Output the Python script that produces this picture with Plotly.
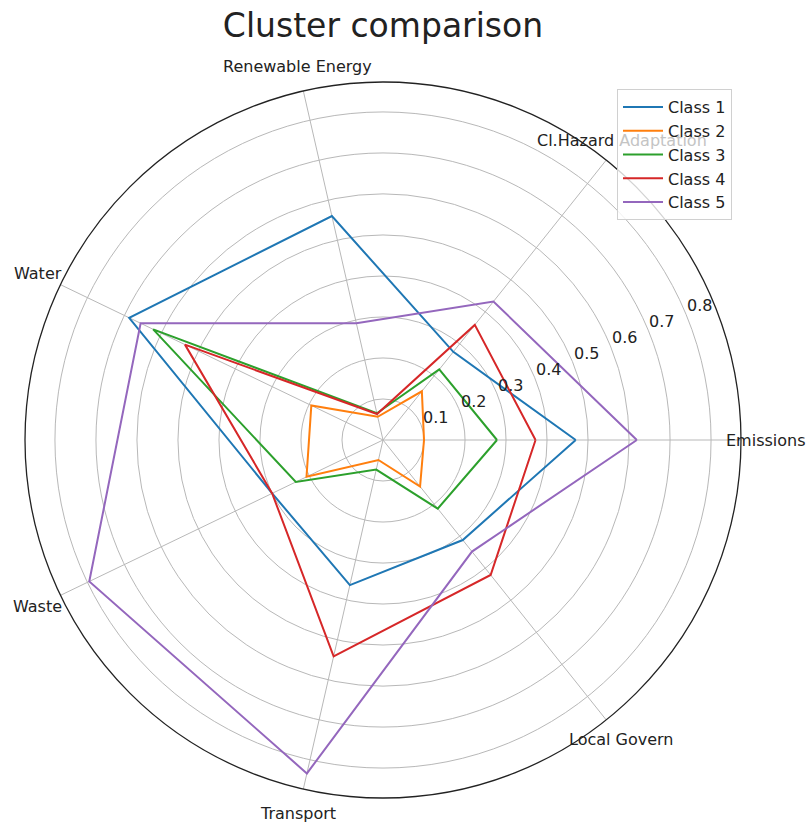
import numpy as np
import plotly.graph_objects as go

# --- data -------------------------------------------------------------------
categories = ["Emissions", "Cl.Hazard Adaptation", "Renewable Energy", "Water",
              "Waste", "Transport", "Local Govern"]
class_names = ["Class 1", "Class 2", "Class 3", "Class 4", "Class 5"]
class_1 = [0.47, 0.275, 0.56, 0.687, 0.30, 0.363, 0.312]
class_2 = [0.10, 0.152, 0.058, 0.194, 0.207, 0.05, 0.145]
class_3 = [0.278, 0.22, 0.067, 0.622, 0.236, 0.074, 0.214]
class_4 = [0.372, 0.359, 0.065, 0.536, 0.30, 0.541, 0.421]
class_5 = [0.619, 0.432, 0.292, 0.656, 0.795, 0.834, 0.348]
r_ticks = [0.1, 0.2, 0.3, 0.4, 0.5, 0.6, 0.7, 0.8]
r_max = 0.873

COLORS = ["#1f77b4", "#ff7f0e", "#2ca02c", "#d62728", "#9467bd"]
FONT = "DejaVu Sans"
INK = "#222222"
GRID = "#b8b8b8"

# angles: first category at 0 deg (east), counter-clockwise
n = len(categories)
angles = [360.0 * i / n for i in range(n)]

fig = go.Figure()
for name, vals, col in zip(class_names, [class_1, class_2, class_3, class_4, class_5], COLORS):
    fig.add_trace(go.Scatterpolar(
        r=vals + vals[:1], theta=angles + angles[:1], mode="lines", name=name,
        line=dict(color=col, width=2)))

# plot area: square, circle centred at (383, 440) px, radius ~358 px
L, R, T, B = 25, 67, 82, 24
W, H = 808, 822
pw, ph = W - L - R, H - T - B
RAD_PX = pw / 2

fig.update_layout(
    width=W, height=H, margin=dict(l=L, r=R, t=T, b=B),
    paper_bgcolor="white", plot_bgcolor="white",
    font=dict(family=FONT, color=INK, size=16),
    title=dict(text="Cluster comparison", x=383 / W, xanchor="center",
               y=1 - 25 / H, yanchor="middle", font=dict(size=33, color=INK)),
    polar=dict(
        bgcolor="white",
        domain=dict(x=[0, 1], y=[0, 1]),
        angularaxis=dict(rotation=0, direction="counterclockwise",
                         tickvals=angles, ticktext=categories, showticklabels=False,
                         ticks="", showgrid=True, gridcolor=GRID, gridwidth=1,
                         showline=True, linecolor="#222222", linewidth=1.3),
        radialaxis=dict(range=[0, r_max], tickvals=r_ticks, showticklabels=False,
                        angle=22.5, showline=False, ticks="",
                        gridcolor=GRID, gridwidth=1),
    ),
    legend=dict(x=(617 - L) / pw, y=(H - B - 89) / ph,
                xanchor="left", yanchor="top", bgcolor="rgba(255,255,255,0.8)", itemwidth=40,
                bordercolor="#d0d0d0", borderwidth=1, font=dict(size=16, color=INK)),
    showlegend=True,
)

# category labels centred just outside the circle (matplotlib-style);
# the part hidden behind the semi-transparent legend is shown faded, as in the original
lab_r = 383
for ang, lab in zip(angles, categories):
    a = np.deg2rad(ang)
    txt = lab
    if lab == "Cl.Hazard Adaptation":
        txt = "Cl.Hazard <span style='color:#c4c4c4'>Adaptation</span>"
    fig.add_annotation(x=0.5 + lab_r * np.cos(a) / pw, y=0.5 + lab_r * np.sin(a) / ph,
                       xref="paper", yref="paper", text=txt, showarrow=False,
                       xanchor="center", yanchor="middle", font=dict(size=16, color=INK))

# radial tick labels along 23 deg, slightly outside each ring
a = np.deg2rad(23)
for t in r_ticks:
    rp = t / r_max * RAD_PX + 16
    fig.add_annotation(x=0.5 + rp * np.cos(a) / pw, y=0.5 + rp * np.sin(a) / ph,
                       xref="paper", yref="paper", text=f"{t:.1f}", showarrow=False,
                       xanchor="center", yanchor="middle", font=dict(size=16, color=INK))

fig.write_html("out.html", config={"displayModeBar": False},
               post_script="document.body.style.margin='0';")
